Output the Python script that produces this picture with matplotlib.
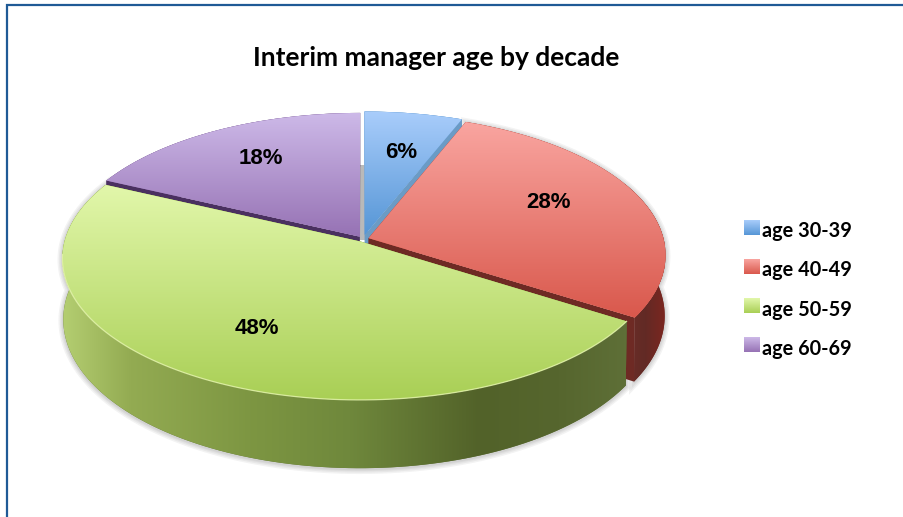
"""
Interim manager age by decade, drawn as a tilted 3D looking pie.
"""

import numpy as np
import matplotlib
matplotlib.use("Agg")
import matplotlib.pyplot as plt
from matplotlib.colors import LinearSegmentedColormap, to_rgb
from matplotlib.patches import Patch, Polygon
from matplotlib.transforms import Transform

title = "Interim manager age by decade"
age_groups = ["age 30-39", "age 40-49", "age 50-59", "age 60-69"]
shares = [6, 28, 48, 18]

# top face gradient (light to dark), plain side colour
top_light = ["#a9cdfb", "#f9a5a0", "#e2f7ab", "#cdb9e8"]
top_dark = ["#5696d6", "#d9584c", "#a9cf55", "#9672b4"]
side_colors = ["#6b9bc5", "#6e2a24", "#5f7038", "#4a3060"]
label_pos = [(401, 152), (549, 202), (257, 328), (261, 159)]

# pixel layout of the tilted disc
CX, CY = 363, 239
RX, RY = 295, 139
TILT = 0.119
DEPTH = 60


class PiePerspective(Transform):
    """Project the unit disc of the pie onto the tilted plane, in pixels."""
    input_dims = 2
    output_dims = 2
    is_separable = False

    def transform_non_affine(self, values):
        u, v = np.asarray(values).T
        w = 1 + TILT * v
        return np.column_stack([CX + RX * u / w, CY - RY * v / w])


project = PiePerspective()


def lower(points, v):
    """Same rim points dropped to the bottom of the disc."""
    out = points.copy()
    out[:, 0] = CX + (out[:, 0] - CX) * 0.997
    out[:, 1] += DEPTH / (1 + TILT * v)
    return out


def rim(wedge):
    """Disc coordinates of the curved edge of a wedge."""
    t = np.radians(np.linspace(wedge.theta1, wedge.theta2, 120))
    u = wedge.center[0] + wedge.r * np.cos(t)
    v = wedge.center[1] + wedge.r * np.sin(t)
    return u, v


def gradient_fill(ax, clip, stops, extent, vertical, zorder):
    cmap = LinearSegmentedColormap.from_list("g", stops)
    ramp = np.linspace(0, 1, 256)
    ramp = ramp[:, None] if vertical else ramp[None, :]
    im = ax.imshow(ramp, cmap=cmap, extent=extent, origin="upper", aspect="auto",
                   interpolation="bilinear", zorder=zorder)
    if clip is not None:
        im.set_clip_path(clip)
    return im


fig = plt.figure(figsize=(9.04, 5.17), dpi=100)
ax = fig.add_axes([0, 0, 1, 1])

wedges, _ = ax.pie(shares, explode=[0.03, 0.02, 0.02, 0.02], startangle=90,
                   counterclock=False, labeldistance=None)

ax.set_aspect("auto")

# blue and purple sit in front of this gray gap
ax.add_patch(Polygon([(358, 165), (368, 165), (368, 240), (358, 240)],
                     closed=True, fc="#b9b9b9", ec="none", zorder=1))

# soft shadow under the outer wall
for i, wedge in enumerate(wedges):
    u, v = rim(wedge)
    top = project.transform(np.column_stack([u, v]))
    outline = np.vstack([top, lower(top, v)[::-1]])
    outline[:, 1] += 1
    if shares[i] in (28, 48):
        for lw in [7, 5, 3, 1.5]:
            ax.add_patch(Polygon(outline, closed=True, fc="none", ec="#555555",
                                 lw=lw, alpha=0.07, zorder=2))

wall_stops = {
    1: ([(625, "#6c2e28"), (645, "#622a25"), (665, "#7b2620")]),
    2: ([(60, "#b5cf72"), (130, "#93ab52"), (250, "#7d9642"), (350, "#6f883c"),
         (480, "#526229"), (560, "#56662e"), (632, "#5f7038")]),
}

draw_order = [0, 3, 1, 2]
for rank, i in enumerate(draw_order):
    wedge = wedges[i]
    z = 10 + 5 * rank
    u, v = rim(wedge)
    top = project.transform(np.column_stack([u, v]))
    bottom = lower(top, v)

    # straight cut faces, from the centre out to both ends of the rim
    apex_xy = project.transform(np.array([wedge.center]))
    apex_low = lower(apex_xy, np.array([wedge.center[1]]))
    for k in (0, -1):
        face = np.vstack([apex_xy, top[k], bottom[k], apex_low])
        ax.add_patch(Polygon(face, closed=True, fc=side_colors[i], ec="none", zorder=z))

    # outer wall
    wall = Polygon(np.vstack([top, bottom[::-1]]), closed=True, fc=side_colors[i],
                   ec="none", zorder=z + 1)
    ax.add_patch(wall)
    if i in wall_stops:
        xs, cols = zip(*wall_stops[i])
        pos = (np.array(xs) - xs[0]) / (xs[-1] - xs[0])
        gradient_fill(ax, wall, list(zip(pos, cols)), (xs[0], xs[-1], 517, 0), False, z + 2)

    # top face is the pie wedge itself, seen through the projection
    wedge.set_transform(project + ax.transData)
    wedge.set_facecolor(top_dark[i])
    wedge.set_edgecolor("none")
    wedge.set_zorder(z + 3)
    outline = np.vstack([top, apex_xy])
    extent = (outline[:, 0].min(), outline[:, 0].max(), outline[:, 1].max(), outline[:, 1].min())
    gradient_fill(ax, wedge, [top_light[i], top_dark[i]], extent, True, z + 4)

    ax.text(*label_pos[i], f"{shares[i]}%", ha="center", va="center", fontsize=16,
            fontweight="bold", family="Liberation Sans", color="black", zorder=40)

# thin light rim on the front of the green slice
u, v = rim(wedges[2])
top = project.transform(np.column_stack([u, v]))
front = v < -0.1
ax.plot(top[front, 0], top[front, 1], color="#e6f5b0", lw=0.9, alpha=0.8, zorder=30)

# frame, only its top and left edges are in the picture
ax.plot([7.5, 7.5, 904], [517, 4.5, 4.5], color="#1f5a96", lw=1.6, zorder=50,
        solid_joinstyle="miter")

ax.text(436, 58, title, ha="center", va="center", fontsize=19, fontweight="bold",
        family="Lato", color="black", zorder=50)

mid_colors = [tuple((np.array(to_rgb(a)) + np.array(to_rgb(b))) / 2)
              for a, b in zip(top_light, top_dark)]
handles = [Patch(facecolor=c, edgecolor="none") for c in mid_colors]
legend = ax.legend(handles, age_groups, loc="upper left", bbox_to_anchor=(744, 221),
                   bbox_transform=ax.transData, frameon=False, borderpad=0, borderaxespad=0,
                   handlelength=0.78, handleheight=0.78, handletextpad=0.13,
                   labelspacing=0.97, prop={"family": "Lato", "weight": "bold", "size": 14.3})
legend.set_zorder(60)

ax.set_xlim(0, 904)
ax.set_ylim(517, 0)
ax.axis("off")

# legend swatches get the same light to dark ramp, sitting a little above their text
fig.canvas.draw()
for i, patch in enumerate(legend.get_patches()):
    box = patch.get_window_extent().transformed(ax.transData.inverted())
    patch.set_visible(False)
    ext = (box.x0, box.x1, max(box.y0, box.y1) - 3, min(box.y0, box.y1) - 3)
    gradient_fill(ax, None, [top_light[i], top_dark[i]], ext, True, 61)

ax.set_xlim(0, 904)
ax.set_ylim(517, 0)

fig.savefig("out.png", dpi=100)
